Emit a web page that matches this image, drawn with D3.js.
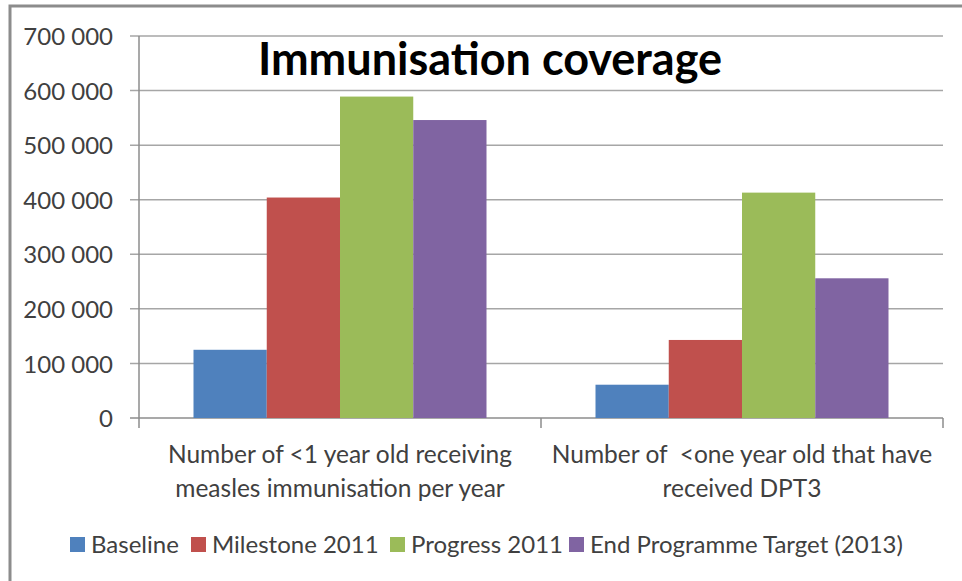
<!DOCTYPE html>
<html>
<head>
<meta charset="utf-8">
<script src="https://cdn.jsdelivr.net/npm/d3@7"></script>
<style>
  body { margin: 0; background: #fff; }
  svg { display: block; font-family: Lato, "Open Sans", sans-serif; }
</style>
</head>
<body>
<div id="chart"></div>
<script>
const categories = [
  ["Number of <1 year old receiving", "measles immunisation per year"],
  ["Number of  <one year old that have", "received DPT3"]
];
const series = ["Baseline", "Milestone 2011", "Progress 2011", "End Programme Target (2013)"];
const baseline = [125000, 61000];
const milestone = [404000, 143000];
const progress = [589000, 413000];
const target = [546000, 256000];
const yTicks = [0, 100000, 200000, 300000, 400000, 500000, 600000, 700000];
const colors = ["#4F81BD", "#C0504D", "#9BBB59", "#8064A2"];

const values = [baseline, milestone, progress, target];

const width = 962, height = 581;
const plotLeft = 139, plotRight = 943, plotTop = 36, plotBottom = 418;

const svg = d3.select("#chart").append("svg")
  .attr("width", width)
  .attr("height", height);

// outer frame
svg.append("rect")
  .attr("x", 10).attr("y", 6)
  .attr("width", 960).attr("height", 600)
  .attr("fill", "none")
  .attr("stroke", "#8c8c8c")
  .attr("stroke-width", 3);

const y = d3.scaleLinear().domain([0, 700000]).range([plotBottom, plotTop]);
const x0 = d3.scaleBand().domain(d3.range(categories.length)).range([plotLeft, plotRight]);
const x1 = d3.scaleBand().domain(d3.range(series.length))
  .range([0, x0.bandwidth()]).paddingInner(0).paddingOuter(0.744);

const fmt = d3.formatLocale({ decimal: ".", thousands: " ", grouping: [3], currency: ["", ""] }).format(",");

// gridlines (they run into the tick marks left of the axis)
svg.append("g").selectAll("line")
  .data(yTicks)
  .join("line")
  .attr("x1", plotLeft - 9).attr("x2", plotRight)
  .attr("y1", d => y(d)).attr("y2", d => y(d))
  .attr("stroke", d => d === 0 ? "#8c8c8c" : "#a6a6a6")
  .attr("stroke-width", 1.5);

// y axis labels
const yAxis = svg.append("g")
  .attr("transform", `translate(${plotLeft},0)`)
  .call(d3.axisLeft(y).tickValues(yTicks).tickFormat(fmt).tickSize(0).tickPadding(26));
yAxis.select(".domain").remove();
yAxis.selectAll("text")
  .attr("font-size", 24)
  .attr("font-family", "Lato, sans-serif")
  .attr("fill", "#404040")
  .attr("dy", "0.36em");

// bars
svg.append("g").selectAll("g")
  .data(values)
  .join("g")
  .attr("fill", (d, i) => colors[i])
  .each(function(vals, si) {
    d3.select(this).selectAll("rect")
      .data(vals)
      .join("rect")
      .attr("x", (v, ci) => x0(ci) + x1(si))
      .attr("width", x1.bandwidth())
      .attr("y", v => y(v))
      .attr("height", v => y(0) - y(v));
  });

// axis lines
svg.append("line")
  .attr("x1", plotLeft).attr("x2", plotLeft)
  .attr("y1", plotTop).attr("y2", plotBottom + 10)
  .attr("stroke", "#8c8c8c").attr("stroke-width", 1.5);
svg.append("g").selectAll("line")
  .data(d3.range(categories.length))
  .join("line")
  .attr("x1", d => x0(d) + x0.bandwidth()).attr("x2", d => x0(d) + x0.bandwidth())
  .attr("y1", plotBottom).attr("y2", plotBottom + 10)
  .attr("stroke", "#8c8c8c").attr("stroke-width", 1.5);

// category labels
svg.append("g").selectAll("text")
  .data(categories)
  .join("text")
  .attr("text-anchor", "middle")
  .attr("font-size", 24.5)
  .attr("fill", "#404040")
  .style("white-space", "pre")
  .attr("transform", (d, i) => `translate(${x0(i) + x0.bandwidth() / 2},0)`)
  .selectAll("tspan")
  .data(d => d)
  .join("tspan")
  .attr("x", 0)
  .attr("y", (d, i) => 463 + i * 34)
  .text(d => d);

// title
svg.append("text")
  .attr("x", 490).attr("y", 75)
  .attr("text-anchor", "middle")
  .attr("font-size", 45)
  .attr("font-weight", "bold")
  .attr("fill", "#000")
  .text("Immunisation coverage");

// legend
const legendX = [70, 191, 390, 569];
const legend = svg.append("g").selectAll("g")
  .data(series)
  .join("g")
  .attr("transform", (d, i) => `translate(${legendX[i]},537)`);
legend.append("rect")
  .attr("width", 15).attr("height", 15)
  .attr("fill", (d, i) => colors[i]);
legend.append("text")
  .attr("x", 21).attr("y", 16)
  .attr("font-size", 24)
  .attr("fill", "#404040")
  .text(d => d);
</script>
</body>
</html>
